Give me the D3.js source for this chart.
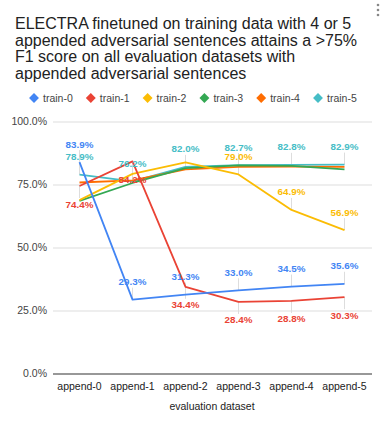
<!DOCTYPE html>
<html>
<head>
<meta charset="utf-8">
<script src="https://cdn.jsdelivr.net/npm/d3@7"></script>
<style>
  body { margin: 0; background: #fff; }
  svg { font-family: "Liberation Sans", Arial, sans-serif; }
</style>
</head>
<body>
<div id="container"></div>
<script>
const categories = ["append-0", "append-1", "append-2", "append-3", "append-4", "append-5"];
const seriesNames = ["train-0", "train-1", "train-2", "train-3", "train-4", "train-5"];
const colors = ["#4285F4", "#EA4335", "#FBBC04", "#34A853", "#FF6D01", "#46BDC6"];

const train0 = [83.9, 29.3, 31.3, 33.0, 34.5, 35.6];
const train1 = [74.4, 84.2, 34.4, 28.4, 28.8, 30.3];
const train2 = [68.8, 79.2, 83.8, 79.0, 64.9, 56.9];
const train3 = [68.5, 75.6, 81.5, 82.6, 82.4, 81.0];
const train4 = [75.8, 76.6, 81.0, 82.0, 82.1, 82.0];
const train5 = [78.9, 76.2, 82.0, 82.7, 82.8, 82.9];
const values = [train0, train1, train2, train3, train4, train5];

// which points carry a data label: 1 = above, -1 = below, 0 = none
const labelSides = [
  [1, 1, 1, 1, 1, 1],
  [-1, -1, -1, -1, -1, -1],
  [0, 0, 0, 1, 1, 1],
  [0, 0, 0, 0, 0, 0],
  [0, 0, 0, 0, 0, 0],
  [1, 1, 1, 1, 1, 1]
];

const yTicks = [0, 25, 50, 75, 100];

const width = 383, height = 423;
const svg = d3.select("#container").append("svg")
  .attr("width", width).attr("height", height);

// title
const titleLines = [
  "ELECTRA finetuned on training data with 4 or 5",
  "appended adversarial sentences attains a >75%",
  "F1 score on all evaluation datasets with",
  "appended adversarial sentences"
];
svg.append("g").selectAll("text").data(titleLines).enter().append("text")
  .attr("x", 15).attr("y", (d, i) => 29 + i * 16.5)
  .attr("font-size", 16).attr("fill", "#222")
  .text(d => d);

// menu dots
svg.append("g").selectAll("circle").data([0, 1, 2]).enter().append("circle")
  .attr("cx", 378).attr("cy", d => 5 + d * 5).attr("r", 1.3).attr("fill", "#888");

// legend
const legend = svg.append("g").selectAll("g").data(seriesNames).enter().append("g")
  .attr("transform", (d, i) => `translate(${34 + i * 56.8}, 98)`);
legend.append("rect")
  .attr("x", -3.5).attr("y", -3.5).attr("width", 7).attr("height", 7)
  .attr("transform", "rotate(45)")
  .attr("fill", (d, i) => colors[i]);
legend.append("text")
  .attr("x", 9).attr("y", 3.5).attr("font-size", 10.5).attr("fill", "#444")
  .text(d => d);

const x = d3.scaleBand().domain(categories).range([53, 371]);
const cx = d => x(d) + x.bandwidth() / 2;
const y = d3.scaleLinear().domain([0, 100]).range([373.5, 121.5]);

// y axis
const yAxis = svg.append("g").attr("transform", "translate(53,0)")
  .call(d3.axisLeft(y).tickValues(yTicks).tickSize(-319).tickPadding(6)
    .tickFormat(d => d.toFixed(1) + "%"));
yAxis.select(".domain").remove();
yAxis.selectAll(".tick line").attr("stroke", d => d === 0 ? "#333" : "#ddd")
  .attr("stroke-width", d => d === 0 ? 1.2 : 1);
yAxis.selectAll(".tick text").attr("font-size", 10.5).attr("fill", "#444")
  .attr("font-family", "Liberation Sans, Arial, sans-serif");

// x axis
const xAxis = svg.append("g").attr("transform", "translate(0,373.5)")
  .call(d3.axisBottom(x).tickSize(0).tickPadding(9));
xAxis.select(".domain").remove();
xAxis.selectAll(".tick text").attr("font-size", 10.5).attr("fill", "#222")
  .attr("font-family", "Liberation Sans, Arial, sans-serif");

svg.append("text").attr("x", 212).attr("y", 410).attr("text-anchor", "middle")
  .attr("font-size", 10.5).attr("fill", "#222").text("evaluation dataset");

// leader lines for data labels
const labelPoints = [];
values.forEach((vals, s) => {
  vals.forEach((v, i) => {
    if (labelSides[s][i] !== 0) labelPoints.push({ s, i, v, side: labelSides[s][i] });
  });
});
svg.append("g").selectAll("line").data(labelPoints).enter().append("line")
  .attr("x1", d => cx(categories[d.i])).attr("x2", d => cx(categories[d.i]))
  .attr("y1", d => y(d.v)).attr("y2", d => y(d.v) - d.side * 12)
  .attr("stroke", "#ddd").attr("stroke-width", 1);

// lines
const line = d3.line().x((d, i) => cx(categories[i])).y(d => y(d));
const drawOrder = [5, 4, 3, 2, 1, 0];
svg.append("g").selectAll("path").data(drawOrder).enter().append("path")
  .attr("d", s => line(values[s]))
  .attr("fill", "none").attr("stroke", s => colors[s]).attr("stroke-width", 1.8)
  .attr("stroke-linejoin", "round");

// data labels
svg.append("g").selectAll("text").data(labelPoints).enter().append("text")
  .attr("x", d => cx(categories[d.i]))
  .attr("y", d => y(d.v) - d.side * 18 + 3.5)
  .attr("text-anchor", "middle").attr("font-size", 9.8).attr("font-weight", "bold")
  .attr("fill", d => colors[d.s])
  .text(d => d.v.toFixed(1) + "%");
</script>
</body>
</html>
